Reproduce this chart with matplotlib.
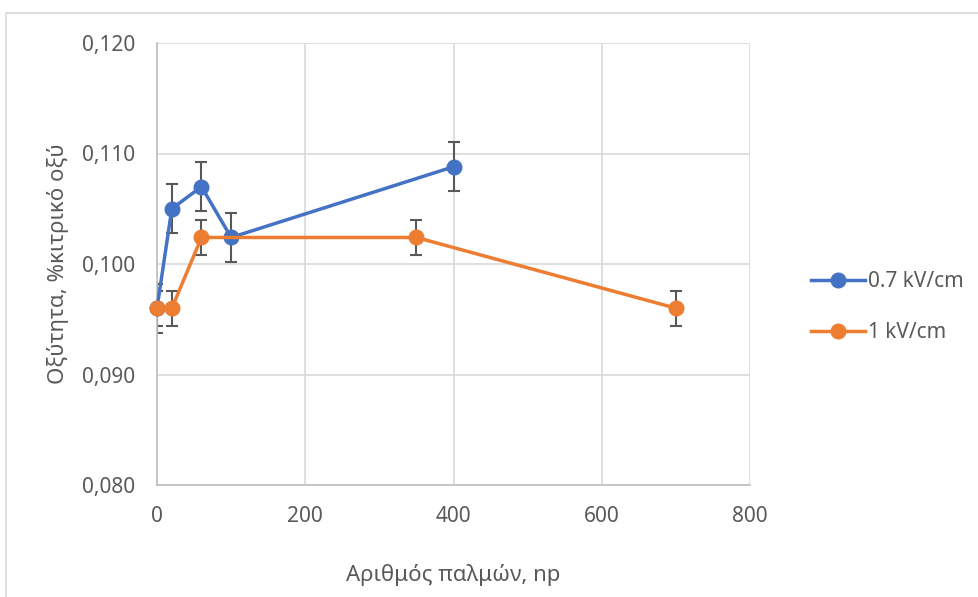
import matplotlib
matplotlib.use("Agg")
import matplotlib.pyplot as plt
from matplotlib.patches import Rectangle
from matplotlib.lines import Line2D
from matplotlib.ticker import FuncFormatter

plt.rcParams['font.family'] = ['Noto Sans', 'DejaVu Sans']

# Data
x_07 = [0, 20, 60, 100, 400]
y_07 = [0.0960, 0.1050, 0.1070, 0.1024, 0.1088]
err_07 = [0.0022, 0.0022, 0.0022, 0.0022, 0.0022]

x_1 = [0, 20, 60, 350, 700]
y_1 = [0.0960, 0.0960, 0.1024, 0.1024, 0.0960]
err_1 = [0.0016, 0.0016, 0.0016, 0.0016, 0.0016]

labels = ["0.7 kV/cm", "1 kV/cm"]
colors = ["#4472C4", "#ED7D31"]

W, H = 979, 597
fig = plt.figure(figsize=(W / 100, H / 100), dpi=100)

# outer chart border
fig.patches.append(Rectangle((6 / W, -0.05), 2.0, (H - 13) / H + 0.05,
                             transform=fig.transFigure, fill=False,
                             edgecolor="#D9D9D9", linewidth=1.2))

ax = fig.add_axes([157 / W, 1 - 485 / H, (750 - 157) / W, (485 - 43) / H])

ax.set_xlim(0, 800)
ax.set_ylim(0.080, 0.120)
ax.set_xticks([0, 200, 400, 600, 800])
ax.set_yticks([0.080, 0.090, 0.100, 0.110, 0.120])
ax.yaxis.set_major_formatter(FuncFormatter(lambda v, p: f"{v:.3f}".replace(".", ",")))
ax.grid(True, color="#D9D9D9", linewidth=1.2)
ax.set_axisbelow(True)
for s in ["top", "right"]:
    ax.spines[s].set_visible(False)
for s in ["left", "bottom"]:
    ax.spines[s].set_color("#BFBFBF")
    ax.spines[s].set_linewidth(1.2)
ax.tick_params(length=0, labelsize=15, colors="#595959")
ax.tick_params(axis="y", pad=16)
ax.tick_params(axis="x", pad=15)

for xs, ys, es, c in [(x_07, y_07, err_07, colors[0]), (x_1, y_1, err_1, colors[1])]:
    ax.errorbar(xs, ys, yerr=es, fmt="none", ecolor="#595959", elinewidth=1.5,
                capsize=4.5, capthick=1.5, zorder=2)
    ax.plot(xs, ys, color=c, linewidth=2.5, marker="o", markersize=10.5,
            zorder=3, clip_on=False)

ax.set_xlabel("Αριθμός παλμών, np", fontsize=16, color="#595959", labelpad=27)
ax.set_ylabel("Οξύτητα, %κιτρικό οξύ", fontsize=16, color="#595959", labelpad=9)

handles = [Line2D([], [], color=c, linewidth=2.5, marker="o", markersize=10.5) for c in colors]
fig.legend(handles, labels, loc="center left", bbox_to_anchor=(792 / W, 1 - 307 / H),
           frameon=False, fontsize=15, labelcolor="#595959", handlelength=2.6,
           handletextpad=0.15, labelspacing=1.45)

fig.savefig("out.png", dpi=100)
